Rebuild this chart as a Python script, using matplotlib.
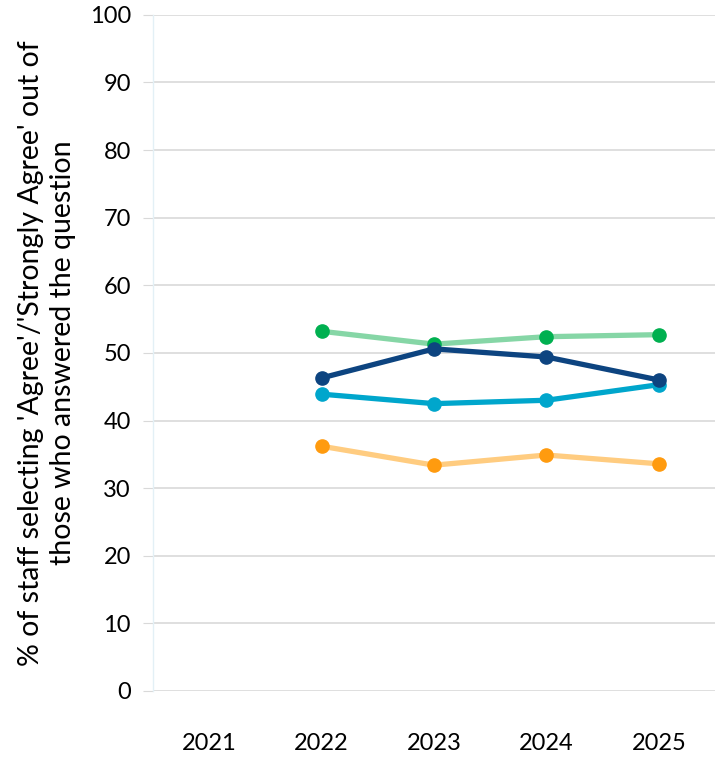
import matplotlib
matplotlib.use("Agg")
import matplotlib.pyplot as plt

plt.rcParams['font.family'] = ['Lato', 'DejaVu Sans']

years = ["2021", "2022", "2023", "2024", "2025"]
x_pos = [1, 2, 3, 4]  # series start at 2022

green_vals = [53.2, 51.3, 52.4, 52.7]
cyan_vals = [43.9, 42.5, 43.0, 45.3]
navy_vals = [46.3, 50.6, 49.4, 46.0]
orange_vals = [36.2, 33.4, 34.9, 33.6]

# (values, line colour, marker colour)
series = [
    (orange_vals, "#ffcc80", "#ff9b0f"),
    (green_vals, "#86d6a6", "#00b050"),
    (cyan_vals, "#00a6cc", "#00a6cc"),
    (navy_vals, "#0d4480", "#0d4480"),
]

fig = plt.figure(figsize=(7.15, 7.58), dpi=100)
ax = fig.add_axes([0.214, 0.0884, 0.786, 0.892])

for vals, lc, mc in series:
    ax.plot(x_pos, vals, color=lc, lw=3.8, solid_capstyle="round", zorder=3)
    ax.plot(x_pos, vals, ls="none", marker="o", ms=9.5, color=mc, zorder=4)

ax.set_xlim(-0.5, 4.5)
ax.set_ylim(0, 100)
ax.set_yticks(range(0, 101, 10))
ax.set_xticks(range(len(years)))
ax.set_xticklabels(years)
ax.grid(axis="y", color="#d9d9d9", lw=1.2, zorder=0)
ax.set_axisbelow(True)

for s in ["top", "right", "bottom"]:
    ax.spines[s].set_visible(False)
ax.spines["left"].set_color("#e3f0f6")
ax.spines["left"].set_linewidth(1)

ax.tick_params(axis="y", length=7, color="#d9d9d9", labelsize=17, pad=9)
ax.tick_params(axis="x", length=0, labelsize=17, pad=30)

ax.set_ylabel("% of staff selecting 'Agree'/'Strongly Agree' out of\nthose who answered the question",
              fontsize=20.5, labelpad=10, linespacing=1.25)

fig.savefig("out.png", dpi=100)
